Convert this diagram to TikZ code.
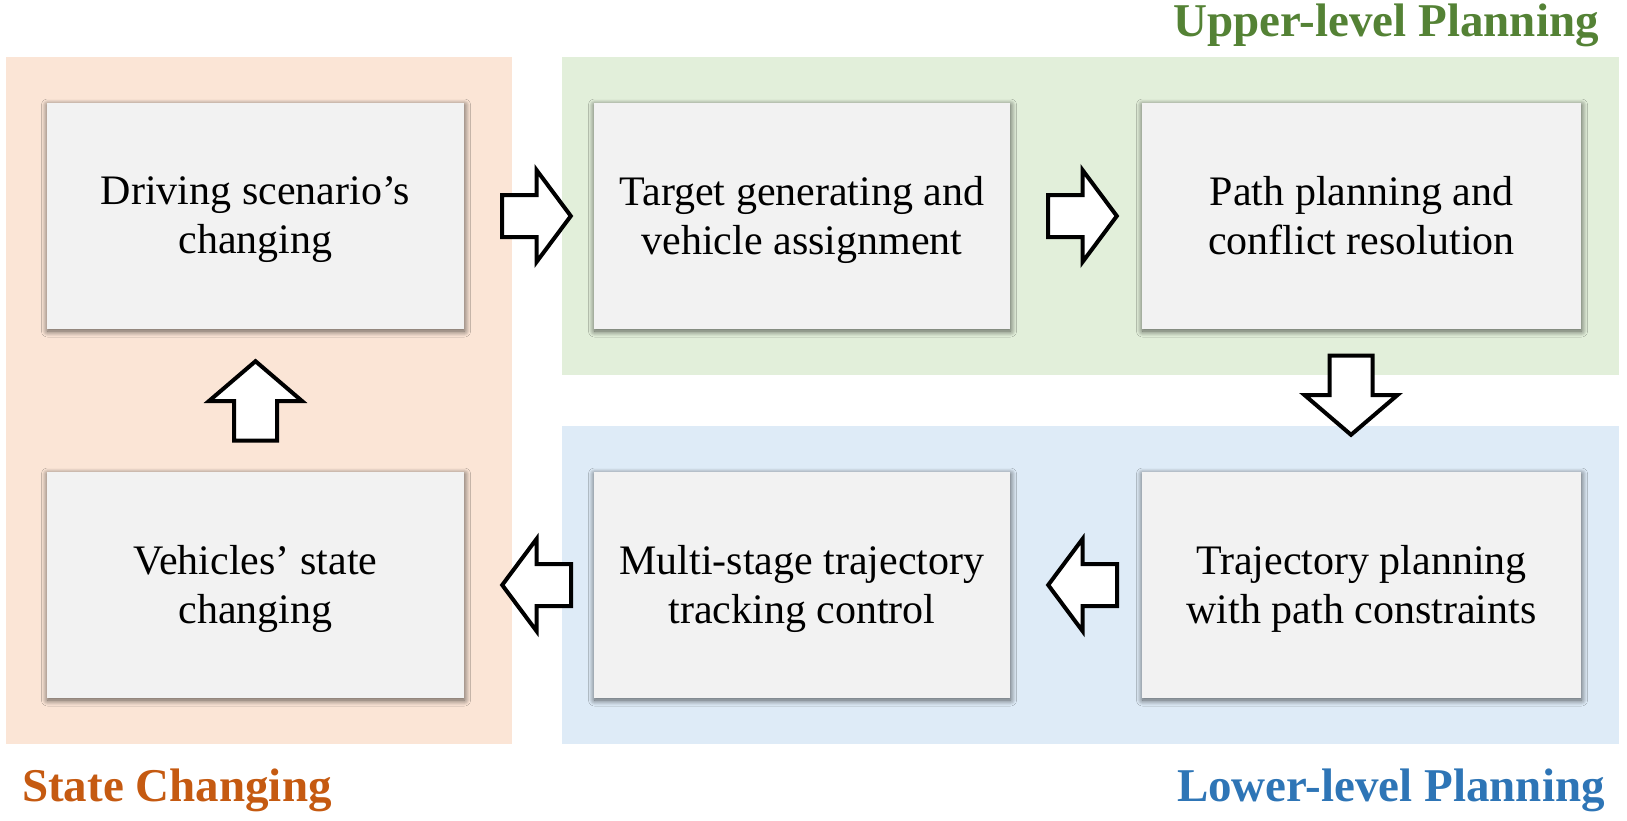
\documentclass[tikz,border=0pt]{standalone}
\usepackage{fontspec}
\setmainfont{Liberation Serif}
\usetikzlibrary{calc,shadows.blur}
\definecolor{orangebg}{HTML}{FBE5D6}
\definecolor{greenbg}{HTML}{E2EFDA}
\definecolor{bluebg}{HTML}{DEEBF7}
\definecolor{orangetxt}{HTML}{C55A11}
\definecolor{greentxt}{HTML}{548235}
\definecolor{bluetxt}{HTML}{2E75B6}
\definecolor{boxfill}{HTML}{F2F2F2}
\tikzset{
  stepbox/.style={fill=boxfill, inner sep=0pt, minimum height=226pt,
    blur shadow={shadow xshift=0.5pt, shadow yshift=-2pt, shadow blur radius=6pt,
      shadow blur extra rounding=0pt, shadow blur steps=12, shadow opacity=65}},
  boxtext/.style={align=center, inner sep=0pt, font=\fontsize{42}{49}\selectfont,
    execute at begin node=\strut, execute at end node=\strut},
  grouptitle/.style={inner sep=0pt, font=\bfseries\fontsize{47}{56}\selectfont},
  blockarrow/.style={draw=black, fill=white, line width=4pt, line join=miter},
  pics/harrow/.style={code={
    \draw[blockarrow] (-34.5,-21) -- (0,-21) -- (0,-46) -- (34.3,0) -- (0,46) -- (0,21) -- (-34.5,21) -- cycle;}},
  pics/varrow/.style={code={
    \draw[blockarrow] (-40,-21.5) -- (-0.5,-21.5) -- (-0.5,-46.5) -- (39.3,0) -- (-0.5,46.5) -- (-0.5,21.5) -- (-40,21.5) -- cycle;}}
}
\begin{document}
\begin{tikzpicture}[x=1pt,y=-1pt]
\useasboundingbox (0,0) rectangle (1627,820);
% group panels
\fill[orangebg] (6,57) rectangle (512,744);
\fill[greenbg] (562,57) rectangle (1619,375);
\fill[bluebg] (562,426) rectangle (1619,744);
% boxes
\node[stepbox, minimum width=417pt] (drive) at (255.5,216) {};
\node[stepbox, minimum width=416pt] (target) at (802,216) {};
\node[stepbox, minimum width=439pt] (path) at (1361.5,216) {};
\node[stepbox, minimum width=417pt] (vehst) at (255.5,585) {};
\node[stepbox, minimum width=416pt] (multi) at (802,585) {};
\node[stepbox, minimum width=439pt] (traj) at (1361.5,585) {};
% box texts
\node[boxtext] (drivet) at ([yshift=-6.5pt]drive.center) {Driving scenario’s\\changing};
\node[boxtext] (targett) at ([yshift=-6.5pt]target.center) {Target generating and\\vehicle assignment};
\node[boxtext] (patht) at ([yshift=-6.5pt]path.center) {Path planning and\\conflict resolution};
\node[boxtext] (vehstt) at ([yshift=-6.5pt]vehst.center) {Vehicles’ state\\changing};
\node[boxtext] (multit) at ([yshift=-6.5pt]multi.center) {Multi-stage trajectory\\tracking control};
\node[boxtext] (trajt) at ([yshift=-6.5pt]traj.center) {Trajectory planning\\with path constraints};
% block arrows
\pic at ($(drive.east)!0.5!(target.west)+(7.5,0)$) {harrow};
\pic at ($(target.east)!0.5!(path.west)+(6.5,0)$) {harrow};
\pic[rotate=-90] at ($(path.south)!0.5!(traj.north)+(-10.5,-5)$) {varrow};
\pic[rotate=180] at ($(traj.west)!0.5!(multi.east)+(6.5,0)$) {harrow};
\pic[rotate=180] at ($(multi.west)!0.5!(vehst.east)+(7.5,0)$) {harrow};
\pic[rotate=90] at ($(vehst.north)!0.5!(drive.south)$) {varrow};
% group titles
\node[grouptitle, text=greentxt, anchor=base east] (upl) at (1599,36) {Upper-level Planning};
\node[grouptitle, text=orangetxt, anchor=base west] (stc) at (22,801) {State Changing};
\node[grouptitle, text=bluetxt, anchor=base east] (lpl) at (1605,801) {Lower-level Planning};
\end{tikzpicture}
\end{document}
